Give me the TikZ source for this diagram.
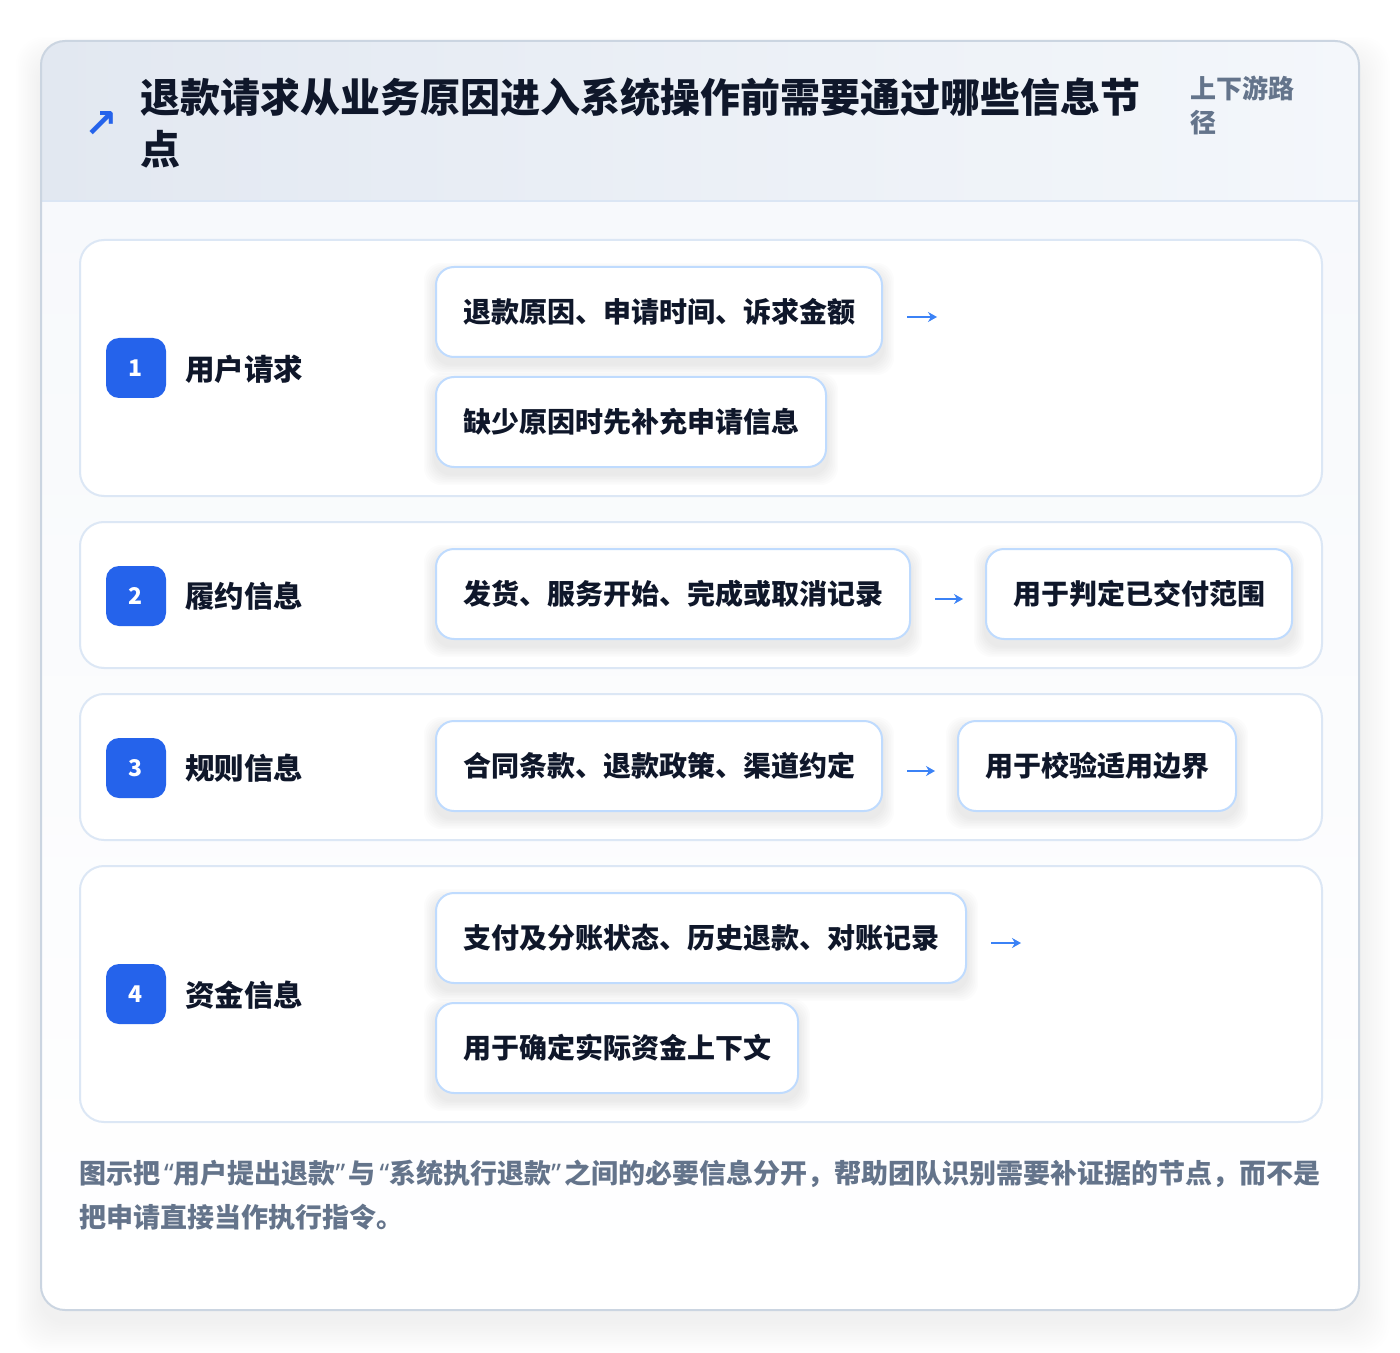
\documentclass[tikz,border=0pt]{standalone}
\usepackage{fontspec}
\setmainfont{Noto Sans CJK SC}
\newfontfamily\symf{DejaVu Sans}
\newfontfamily\latinq{Noto Sans}
\usetikzlibrary{arrows.meta}
\pgfdeclarelayer{back}
\pgfdeclarelayer{shadow}
\pgfsetlayers{back,shadow,main}
\definecolor{ink}{HTML}{0F172A}
\definecolor{muted}{HTML}{64748B}
\definecolor{badgec}{HTML}{2563EB}
\definecolor{arrowc}{HTML}{3B82F6}
\definecolor{boxborder}{HTML}{BFDBFE}
\definecolor{rowborder}{HTML}{DCE7F5}
\definecolor{cardborder}{HTML}{CBD5E1}
\definecolor{hdrL}{HTML}{E2E8F1}
\definecolor{hdrR}{HTML}{F4F7FB}
\definecolor{hdrline}{HTML}{DBE6F4}
\definecolor{bodytop}{HTML}{F6F8FB}
\newcommand\myopenq{{\kern1.8pt\latinq\bfseries “}}
\newcommand\mycloseq{{\latinq\bfseries ”\kern1.8pt}}
\tikzset{
  box/.style={draw=boxborder, line width=1pt, fill=white, rounded corners=9pt,
    minimum height=45pt, inner xsep=13.5pt, inner ysep=0pt, anchor=west,
    text=ink, font=\bfseries\fontsize{14pt}{16pt}\selectfont},
  rowcard/.style={draw=rowborder, line width=1pt, fill=white, rounded corners=12pt,
    anchor=north west, inner sep=0pt},
  badge/.style={fill=badgec, rounded corners=6.5pt, minimum size=30pt, inner sep=0pt,
    text=white, font=\bfseries\fontsize{11.5pt}{12pt}\selectfont},
  lab/.style={anchor=west, inner sep=0pt, text=ink, font=\bfseries\fontsize{14.75pt}{16pt}\selectfont},
  flow/.style={draw=arrowc, line width=1pt, -{Stealth[length=4.5pt,width=5pt]}},
  note/.style={anchor=base west, inner sep=0pt, text=muted, font=\bfseries\fontsize{13pt}{15pt}\selectfont},
  foot/.style={anchor=base west, inner sep=0pt, text=muted, font=\bfseries\fontsize{13.5pt}{15pt}\selectfont},
  titletext/.style={anchor=base west, inner sep=0pt, text=ink, font=\bfseries\fontsize{20pt}{24pt}\selectfont},
}
\newcommand\boxshadow[1]{%
  \begin{pgfonlayer}{shadow}
    \foreach \i in {1,...,7}{
      \fill[black, opacity=0.011, rounded corners=9pt]
        ([shift={(-1.6*\i,1.6*\i+6)}]#1.south west) rectangle ([shift={(1.6*\i,-1.6*\i+8)}]#1.north east);
    }
  \end{pgfonlayer}}
\begin{document}
\begin{tikzpicture}[x=0.5pt,y=-0.5pt]
\useasboundingbox (0,0) rectangle (1400,1352);
\begin{pgfonlayer}{back}
  \fill[white] (0,0) rectangle (1400,1352);
  % outer card shadow
  \foreach \i in {1,...,14}{
    \fill[black, opacity=0.005, rounded corners=14pt]
      (41-1.8*\i, 41-1.6*\i+18) rectangle (1359+2.2*\i, 1310+2.2*\i+12);
  }
  % card body
  \shade[top color=bodytop, bottom color=white, rounded corners=12pt] (41,41) rectangle (1359,1310);
  \begin{scope}
    \clip[rounded corners=12pt] (41,41) rectangle (1359,1310);
    \shade[left color=hdrL, right color=hdrR] (41,41) rectangle (1359,201);
  \end{scope}
  \draw[hdrline, line width=1pt] (42,201) -- (1358,201);
  \draw[cardborder, line width=1pt, rounded corners=12pt] (41,41) rectangle (1359,1310);
  % row cards
  \node[rowcard, minimum width=621pt, minimum height=128pt] (row1) at (79,239) {};
  \node[rowcard, minimum width=621pt, minimum height=73pt] (row2) at (79,521) {};
  \node[rowcard, minimum width=621pt, minimum height=73pt] (row3) at (79,693) {};
  \node[rowcard, minimum width=621pt, minimum height=128pt] (row4) at (79,865) {};
\end{pgfonlayer}

% header
\node[text=badgec, inner sep=0pt, font=\symf\bfseries\fontsize{20pt}{20pt}\selectfont] (icon) at (101,125) {↗};
\node[titletext] (title1) at (140,113) {退款请求从业务原因进入系统操作前需要通过哪些信息节};
\node[titletext] (title2) at (140,165) {点};
\node[note] (side1) at (1190,99) {上下游路};
\node[note] (side2) at (1190,133) {径};

% row 1
\node[badge] (n1) at (136,368) {1};
\node[lab] (l1) at (185,369) {用户请求};
\node[box] (b1a) at (435,312) {退款原因、申请时间、诉求金额};
\node[box] (b1b) at (435,422) {缺少原因时先补充申请信息};
\coordinate (a1s) at ([xshift=12pt,yshift=-2.5pt]b1a.east);
\coordinate (a1e) at ([xshift=27pt,yshift=-2.5pt]b1a.east);
\draw[flow] (a1s) -- (a1e);
\boxshadow{b1a}\boxshadow{b1b}

% row 2
\node[badge] (n2) at (136,596) {2};
\node[lab] (l2) at (185,596) {履约信息};
\node[box] (b2a) at (435,594) {发货、服务开始、完成或取消记录};
\node[box] (b2b) at (985,594) {用于判定已交付范围};
\draw[flow] ([xshift=12pt,yshift=-2.5pt]b2a.east) -- ([xshift=-11pt,yshift=-2.5pt]b2b.west);
\boxshadow{b2a}\boxshadow{b2b}

% row 3
\node[badge] (n3) at (136,768) {3};
\node[lab] (l3) at (185,768) {规则信息};
\node[box] (b3a) at (435,766) {合同条款、退款政策、渠道约定};
\node[box] (b3b) at (957,766) {用于校验适用边界};
\draw[flow] ([xshift=12pt,yshift=-2.5pt]b3a.east) -- ([xshift=-11pt,yshift=-2.5pt]b3b.west);
\boxshadow{b3a}\boxshadow{b3b}

% row 4
\node[badge] (n4) at (136,994) {4};
\node[lab] (l4) at (185,995) {资金信息};
\node[box] (b4a) at (435,938) {支付及分账状态、历史退款、对账记录};
\node[box] (b4b) at (435,1048) {用于确定实际资金上下文};
\coordinate (a4s) at ([xshift=12pt,yshift=-2.5pt]b4a.east);
\coordinate (a4e) at ([xshift=27pt,yshift=-2.5pt]b4a.east);
\draw[flow] (a4s) -- (a4e);
\boxshadow{b4a}\boxshadow{b4b}

% footnote
\node[foot] (foot1) at (79,1183) {图示把\myopenq 用户提出退款\mycloseq 与\myopenq 系统执行退款\mycloseq 之间的必要信息分开，帮助团队识别需要补证据的节点，而不是};
\node[foot] (foot2) at (79,1227) {把申请直接当作执行指令。};
\end{tikzpicture}
\end{document}
